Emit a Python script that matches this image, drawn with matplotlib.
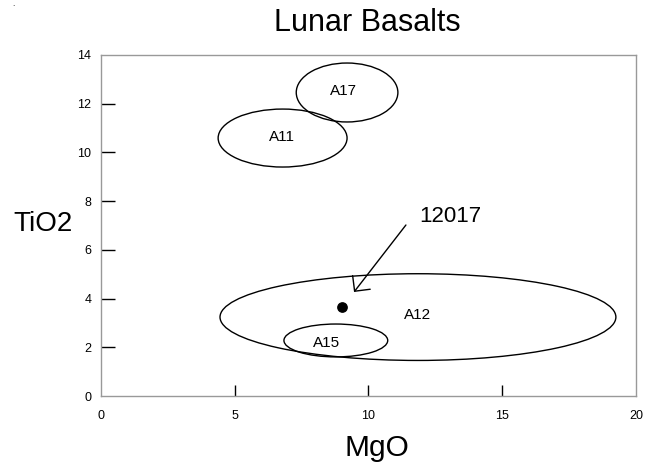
import matplotlib
matplotlib.use("Agg")
import matplotlib.pyplot as plt
from matplotlib.patches import Ellipse

plt.rcParams['font.family'] = ['Liberation Sans', 'DejaVu Sans']

# mission fields (MgO center, TiO2 center, width, height)
names = ["A17", "A11", "A12", "A15"]
mgo_center = [9.2, 6.79, 11.85, 8.78]
tio2_center = [12.46, 10.59, 3.24, 2.28]
widths = [3.8, 4.82, 14.8, 3.88]
heights = [2.42, 2.38, 3.56, 1.35]
label_x = [9.05, 6.77, 11.85, 8.45]
label_y = [12.52, 10.63, 3.32, 2.18]

# sample 12017
sample_name = "12017"
sample_mgo = [9.0]
sample_tio2 = [3.65]
sample_label = (11.89, 7.35)
arrow_tail = (11.4, 7.02)
arrow_head = (9.46, 4.27)

xticks = [0, 5, 10, 15, 20]
yticks = [0, 2, 4, 6, 8, 10, 12, 14]

fig = plt.figure(figsize=(6.54, 4.66), dpi=100)
ax = fig.add_axes([0.1544, 0.1502, 0.818, 0.7318])

for i in range(len(names)):
    e = Ellipse((mgo_center[i], tio2_center[i]), widths[i], heights[i],
                fill=False, edgecolor="black", lw=1.0)
    ax.add_patch(e)
    ax.text(label_x[i], label_y[i], names[i], fontsize=11, ha="center", va="center")

ax.scatter(sample_mgo, sample_tio2, s=45, color="black", zorder=3)
ax.annotate("", xy=arrow_head, xytext=arrow_tail,
            arrowprops=dict(arrowstyle="->,head_length=0.4,head_width=0.4",
                            color="black", lw=1.0, mutation_scale=20,
                            shrinkA=0, shrinkB=0))
ax.text(sample_label[0], sample_label[1], sample_name, fontsize=16,
        ha="left", va="center")

ax.set_xlim(0, 20)
ax.set_ylim(0, 14)
ax.set_xticks(xticks)
ax.set_yticks(yticks)
ax.tick_params(axis="x", direction="in", length=8, width=1, color="black",
               labelsize=9, pad=10)
ax.tick_params(axis="y", direction="in", length=10, width=1, color="black",
               labelsize=9, pad=7)
# no marks at the frame edges
for t in [ax.xaxis.get_major_ticks()[0], ax.xaxis.get_major_ticks()[-1],
          ax.yaxis.get_major_ticks()[0], ax.yaxis.get_major_ticks()[-1]]:
    t.tick1line.set_visible(False)

for s in ax.spines.values():
    s.set_color("#999999")
    s.set_linewidth(1)

fig.text(367 / 654, 1 - 23 / 466, "Lunar Basalts", fontsize=22, ha="center", va="center")
fig.text(377 / 654, 1 - 448 / 466, "MgO", fontsize=21.5, ha="center", va="center")
fig.text(43 / 654, 1 - 224 / 466, "TiO2", fontsize=20, ha="center", va="center")
fig.text(13 / 654, 1 - 5 / 466, ".", fontsize=6, ha="center", va="center")

plt.savefig("out.png", dpi=100)
